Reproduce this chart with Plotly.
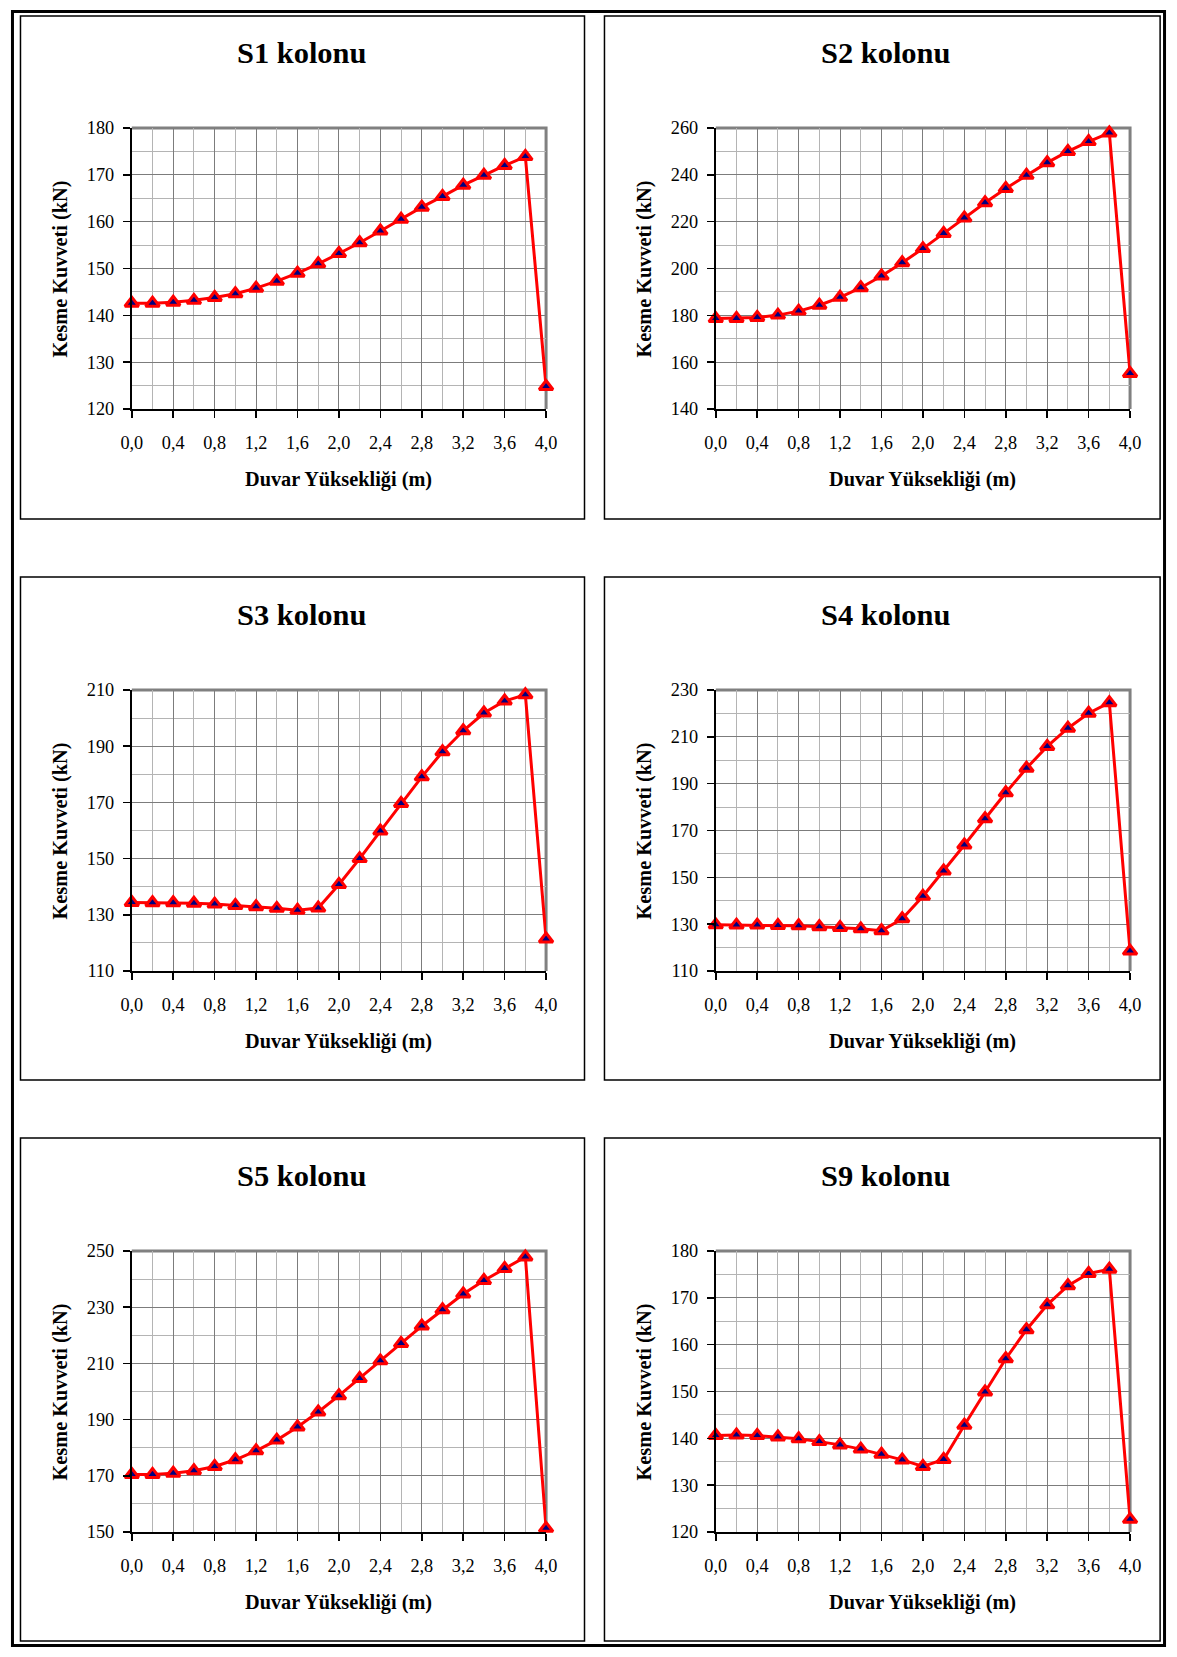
import plotly.graph_objects as go

W, H = 1177, 1657

# ---------------- data ----------------
heights = [0.0, 0.2, 0.4, 0.6, 0.8, 1.0, 1.2, 1.4, 1.6, 1.8, 2.0,
           2.2, 2.4, 2.6, 2.8, 3.0, 3.2, 3.4, 3.6, 3.8, 4.0]
x_tick_vals = [0.0, 0.4, 0.8, 1.2, 1.6, 2.0, 2.4, 2.8, 3.2, 3.6, 4.0]
x_tick_text = ["0,0", "0,4", "0,8", "1,2", "1,6", "2,0", "2,4", "2,8", "3,2", "3,6", "4,0"]

titles = ["S1 kolonu", "S2 kolonu", "S3 kolonu", "S4 kolonu", "S5 kolonu", "S9 kolonu"]

s1 = [142.6, 142.6, 142.8, 143.2, 143.8, 144.6, 145.8, 147.3, 149.0, 151.0, 153.2,
      155.5, 158.0, 160.5, 163.1, 165.4, 167.8, 169.9, 172.0, 173.9, 124.8]
s2 = [178.6, 178.7, 179.1, 180.1, 181.8, 184.3, 187.7, 191.8, 196.8, 202.5, 208.5,
      215.0, 221.6, 228.1, 234.2, 239.8, 245.2, 250.0, 254.2, 257.9, 155.2]
s3 = [134.4, 134.3, 134.3, 134.1, 133.8, 133.3, 132.9, 132.3, 131.6, 132.4, 140.8,
      150.0, 159.8, 169.6, 179.1, 188.0, 195.5, 201.8, 206.1, 208.3, 121.4]
s4 = [129.7, 129.6, 129.6, 129.4, 129.3, 128.9, 128.6, 128.0, 127.2, 132.3, 141.9,
      152.7, 163.8, 175.0, 186.1, 196.6, 205.9, 213.7, 220.1, 224.6, 118.5]
s5 = [170.5, 170.5, 170.9, 171.8, 173.3, 175.7, 178.9, 182.7, 187.4, 192.7, 198.5,
      204.6, 210.9, 217.1, 223.3, 229.1, 234.7, 239.5, 243.8, 247.9, 151.3]
s9 = [140.6, 140.7, 140.6, 140.3, 139.9, 139.3, 138.6, 137.7, 136.6, 135.4, 134.0,
      135.5, 142.8, 149.9, 157.0, 163.2, 168.5, 172.6, 175.2, 176.1, 122.7]
series = [s1, s2, s3, s4, s5, s9]

# y-axis ranges, major step, minor step
y_ranges = [(120, 180), (140, 260), (110, 210), (110, 230), (150, 250), (120, 180)]
y_major = [10, 20, 20, 20, 20, 10]
y_minor = [5, 10, 10, 10, 10, 5]

x_title = "Duvar Yüksekliği (m)"
y_title = "Kesme Kuvveti (kN)"

# minor (lighter) vertical grid lines sit between the labelled ticks
x_minor_vals = heights[1::2]

# ---------------- layout geometry (target pixels) ----------------
col_box = [(19.5, 584.5), (604.5, 1168.5)]
col_plot = [(131, 546), (716, 1131)]
row_box = [(15, 519), (577, 1080), (1138, 1641)]
row_plot = [(128, 409), (690, 971), (1251, 1532)]
row_title_y = [53, 615, 1176]
row_xtitle_y = [479, 1041, 1602]
ytitle_dx = [60, 645]

FONT = "Liberation Serif"
INSET = 10.0
SX = W / (W - 2 * INSET)
SY = H / (H - 2 * INSET)
FS = (SX + SY) / 2

MAJOR_GRID = "#7c7c7c"
MINOR_GRID = "#b4b4b4"


def px(x, lim=1.5):
    f = (x - INSET) * SX
    f = max(lim, min(f, W - lim))
    return f / W


def py(y, lim=1.5):
    f = (y - INSET) * SY
    f = max(lim, min(f, H - lim))
    return 1 - f / H


fig = go.Figure()
shapes = []
annotations = []

# outer frame
shapes.append(dict(type="rect", xref="paper", yref="paper",
                   x0=px(2), x1=px(1175), y0=py(1655), y1=py(2),
                   line=dict(color="black", width=3), layer="below"))

for i in range(6):
    r, c = divmod(i, 2)
    n = i + 1
    xa = "x" if n == 1 else f"x{n}"
    ya = "y" if n == 1 else f"y{n}"
    xl = "xaxis" if n == 1 else f"xaxis{n}"
    yl = "yaxis" if n == 1 else f"yaxis{n}"
    x0p, x1p = col_plot[c]
    y0p, y1p = row_plot[r]
    ymin, ymax = y_ranges[i]

    fig.add_trace(go.Scatter(
        x=heights, y=series[i], xaxis=xa, yaxis=ya, mode="lines+markers",
        line=dict(color="#FF0000", width=3),
        marker=dict(symbol="triangle-up", size=12, color="#000080",
                    line=dict(color="#FF0000", width=3)),
        cliponaxis=False, showlegend=False, hoverinfo="x+y"))

    fig.layout[xl] = dict(
        domain=[px(x0p), px(x1p)], anchor=ya, range=[0, 4],
        tickmode="array", tickvals=x_tick_vals, ticktext=x_tick_text,
        ticks="outside", ticklen=7, tickwidth=1.5, tickcolor="black",
        showline=True, linecolor="black", linewidth=2,
        showgrid=True, gridcolor=MAJOR_GRID, gridwidth=1,
        minor=dict(tickmode="array", tickvals=x_minor_vals, ticks="",
                   showgrid=True, gridcolor=MINOR_GRID, gridwidth=1),
        tickfont=dict(family=FONT, size=18 * FS, color="black"),
        ticklabelstandoff=9, zeroline=False, fixedrange=True)
    fig.layout[yl] = dict(
        domain=[py(y1p), py(y0p)], anchor=xa, range=[ymin, ymax],
        tickmode="linear", tick0=ymin, dtick=y_major[i],
        ticks="outside", ticklen=7, tickwidth=1.5, tickcolor="black",
        showline=True, linecolor="black", linewidth=2,
        showgrid=True, gridcolor=MAJOR_GRID, gridwidth=1,
        minor=dict(dtick=y_minor[i], tick0=ymin, ticks="", showgrid=True,
                   gridcolor=MINOR_GRID, gridwidth=1),
        tickfont=dict(family=FONT, size=18 * FS, color="black"),
        ticklabelstandoff=5, zeroline=False, fixedrange=True)

    # panel box
    bx0, bx1 = col_box[c]
    by0, by1 = row_box[r]
    shapes.append(dict(type="rect", xref="paper", yref="paper",
                       x0=px(bx0, 6), x1=px(bx1, 6), y0=py(by1, 6), y1=py(by0, 6),
                       line=dict(color="black", width=1.5), layer="below"))
    # gray top / right plot border
    shapes.append(dict(type="path", xref="paper", yref="paper",
                       path=f"M {px(x0p)} {py(y0p)} L {px(x1p)} {py(y0p)} L {px(x1p)} {py(y1p)}",
                       line=dict(color="#808080", width=3), layer="below"))

    # panel title
    annotations.append(dict(text=f"<b>{titles[i]}</b>", xref="paper", yref="paper",
                            x=px((bx0 + bx1) / 2), y=py(row_title_y[r]),
                            xanchor="center", yanchor="middle", showarrow=False,
                            font=dict(family=FONT, size=30 * FS, color="black")))
    # x title
    annotations.append(dict(text=f"<b>{x_title}</b>", xref="paper", yref="paper",
                            x=px((x0p + x1p) / 2), y=py(row_xtitle_y[r]),
                            xanchor="center", yanchor="middle", showarrow=False,
                            font=dict(family=FONT, size=20 * FS, color="black")))
    # y title
    annotations.append(dict(text=f"<b>{y_title}</b>", xref="paper", yref="paper",
                            x=px(ytitle_dx[c]), y=py((y0p + y1p) / 2),
                            xanchor="center", yanchor="middle", textangle=-90,
                            showarrow=False,
                            font=dict(family=FONT, size=20 * FS, color="black")))

fig.update_layout(
    width=W, height=H, autosize=False,
    margin=dict(l=0, r=0, t=0, b=0, pad=0),
    paper_bgcolor="white", plot_bgcolor="white",
    shapes=shapes, annotations=annotations,
    font=dict(family=FONT, color="black"),
    showlegend=False,
)

fig.write_html(
    "out.html",
    config={"displayModeBar": False, "staticPlot": True},
    post_script="document.body.style.margin='0px';document.body.style.overflow='hidden';",
)
